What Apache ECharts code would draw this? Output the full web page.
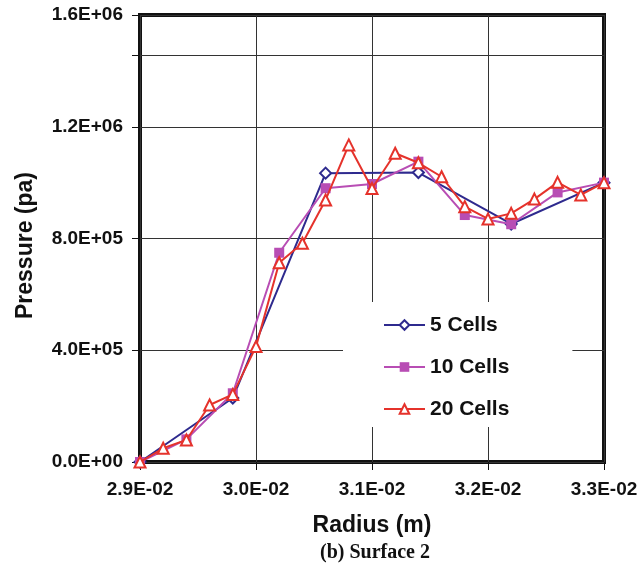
<!DOCTYPE html>
<html>
<head>
<meta charset="utf-8">
<script src="https://cdn.jsdelivr.net/npm/echarts@6/dist/echarts.min.js"></script>
<style>
html,body{margin:0;padding:0;background:#fff;}
#chart{width:638px;height:568px;}
</style>
</head>
<body>
<div id="chart"></div>
<script>
// Radius (m) for each mesh
const radius5 = [0.029, 0.0298, 0.0306, 0.0314, 0.0322, 0.033];
const radius10 = [0.029, 0.0294, 0.0298, 0.0302, 0.0306, 0.031, 0.0314, 0.0318, 0.0322, 0.0326, 0.033];
const radius20 = [0.029, 0.0292, 0.0294, 0.0296, 0.0298, 0.030, 0.0302, 0.0304, 0.0306, 0.0308, 0.031,
                  0.0312, 0.0314, 0.0316, 0.0318, 0.032, 0.0322, 0.0324, 0.0326, 0.0328, 0.033];
// Pressure (pa)
const pressure5 = [0, 229000, 1034000, 1036000, 852000, 1000000];
const pressure10 = [0, 81000, 246000, 749000, 980000, 995000, 1075000, 884000, 851000, 965000, 1000000];
const pressure20 = [0, 49000, 79000, 204000, 242000, 413000, 713000, 783000, 938000, 1135000, 979000,
                    1105000, 1071000, 1021000, 914000, 870000, 890000, 941000, 1001000, 956000, 1000000];
const seriesNames = ['5 Cells', '10 Cells', '20 Cells'];
const extraGridValue = 1457000;

function zip(xs, ys) { return xs.map((x, i) => [x, ys[i]]); }
function sci(v) {
  let s = v.toExponential(1).toUpperCase();
  const m = s.match(/^(-?[\d.]+)E([+-])(\d+)$/);
  if (!m) return s;
  return m[1] + 'E' + m[2] + (m[3].length < 2 ? '0' + m[3] : m[3]);
}

const font = '"Liberation Sans", Arial, sans-serif';
const chart = echarts.init(document.getElementById('chart'));
chart.setOption({
  animation: false,
  backgroundColor: '#fff',
  title: {
    text: '(b) Surface 2',
    left: 370,
    textAlign: 'center',
    top: 538,
    textStyle: { fontFamily: '"Liberation Serif", "Times New Roman", serif', fontWeight: 'bold', fontSize: 20, color: '#111' }
  },
  grid: {
    left: 140, right: 34, top: 15, bottom: 106,
    outerBoundsMode: 'none', containLabel: false,
    show: true, borderColor: '#111', borderWidth: 4, backgroundColor: 'transparent'
  },
  legend: {
    orient: 'vertical',
    left: 343, top: 302,
    backgroundColor: '#fff',
    padding: [12, 63, 7, 40],
    itemWidth: 41, itemHeight: 12, itemGap: 20,
    textStyle: { fontFamily: font, fontWeight: 'bold', fontSize: 21, color: '#111', lineHeight: 22 },
    data: seriesNames
  },
  xAxis: {
    type: 'value', min: 0.029, max: 0.033, interval: 0.001,
    name: 'Radius (m)', nameLocation: 'middle', nameGap: 52,
    nameTextStyle: { fontFamily: font, fontWeight: 'bold', fontSize: 23, color: '#111' },
    axisLine: { show: false },
    axisTick: { show: true, inside: false, length: 8, lineStyle: { color: '#111', width: 1 } },
    axisLabel: { fontFamily: font, fontWeight: 'bold', fontSize: 19, color: '#111', margin: 18,
                 formatter: v => sci(v) },
    splitLine: { show: true, lineStyle: { color: '#333', width: 1 } }
  },
  yAxis: {
    type: 'value', min: 0, max: 1600000, interval: 400000,
    name: 'Pressure (pa)', nameLocation: 'middle', nameGap: 103, nameRotate: 90,
    nameTextStyle: { fontFamily: font, fontWeight: 'bold', fontSize: 23, color: '#111', padding: [0, 14, 0, 0] },
    axisLine: { show: false },
    axisTick: { show: true, length: 8, lineStyle: { color: '#111', width: 1 },
                customValues: [0, 400000, 800000, 1200000, extraGridValue, 1600000] },
    axisLabel: { fontFamily: font, fontWeight: 'bold', fontSize: 19, color: '#111', margin: 17,
                 formatter: v => sci(v) },
    splitLine: { show: true, lineStyle: { color: '#333', width: 1 } }
  },
  series: [
    {
      name: seriesNames[0], type: 'line', data: zip(radius5, pressure5),
      symbol: 'diamond', symbolSize: 11,
      itemStyle: { color: '#fff', borderColor: '#2e2a8e', borderWidth: 2 },
      lineStyle: { color: '#2e2a8e', width: 2 },
      z: 3,
      markLine: {
        silent: true, symbol: 'none', label: { show: false },
        lineStyle: { color: '#333', width: 1, type: 'solid' },
        data: [{ yAxis: extraGridValue }]
      }
    },
    {
      name: seriesNames[1], type: 'line', data: zip(radius10, pressure10),
      symbol: 'rect', symbolSize: 10,
      itemStyle: { color: '#b84db4', borderColor: '#b84db4', borderWidth: 0 },
      lineStyle: { color: '#b84db4', width: 2 },
      z: 4
    },
    {
      name: seriesNames[2], type: 'line', data: zip(radius20, pressure20),
      symbol: 'triangle', symbolSize: 11,
      itemStyle: { color: '#fff', borderColor: '#e5322b', borderWidth: 2 },
      lineStyle: { color: '#e5322b', width: 2 },
      z: 5
    }
  ]
});
</script>
</body>
</html>
